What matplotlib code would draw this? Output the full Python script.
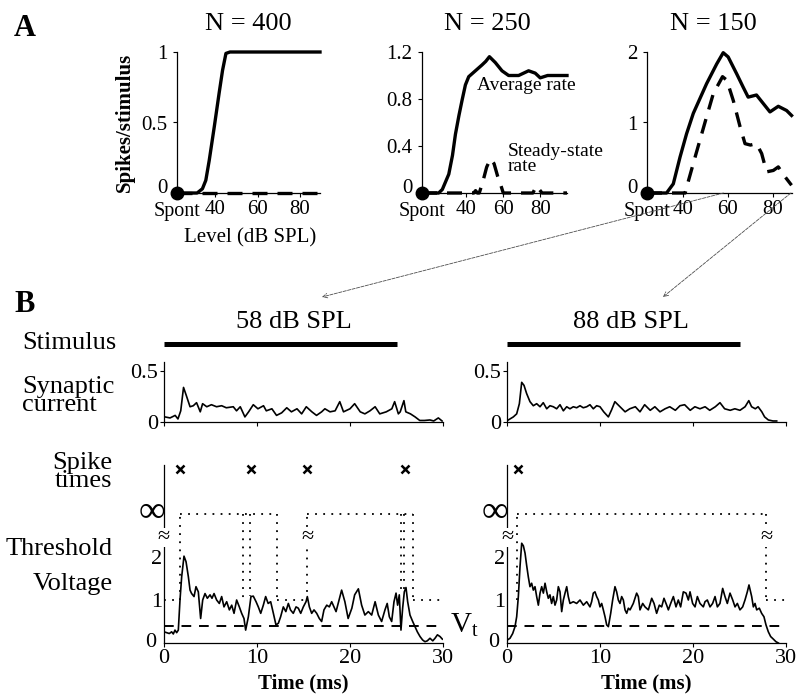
import matplotlib
matplotlib.use('Agg')
import matplotlib.pyplot as plt
from matplotlib.patches import ConnectionPatch
from matplotlib.transforms import ScaledTranslation

plt.rcParams['font.family'] = ['Liberation Serif', 'DejaVu Serif']
plt.rcParams['mathtext.fontset'] = 'custom'
plt.rcParams['mathtext.rm'] = 'Liberation Serif'
plt.rcParams['mathtext.it'] = 'Liberation Serif:italic'

# ---------------- data: panel A (rate vs level) ----------------
n_fibers = [400, 250, 150]
spont = [22, 16, 24]                 # where "Spont" sits on each level axis
level_max = [89.5, 94.5, 88.5]
rate_max = [1.0, 1.2, 2.0]
rate_ticks = [[0, 0.5, 1], [0, 0.4, 0.8, 1.2], [0, 1, 2]]
rate_ticklabels = [['0', '0.5', '1'], ['0', '0.4', '0.8', '1.2'], ['0', '1', '2']]

lvl_avg400 = [22, 31.5, 34, 35.6, 37.2, 39.6, 41.9, 43.5, 45.1, 47, 60, 70, 80, 89.5]
avg400 = [0, 0, 0.03, 0.09, 0.23, 0.47, 0.71, 0.87, 0.99, 1, 1, 1, 1, 1]
lvl_ss400 = [22, 89.5]
ss400 = [0, 0]

lvl_avg250 = [16, 25, 27, 30.5, 32.5, 34.1, 36, 37.7, 39.5, 41.3, 44.9, 48.5, 50.5, 52.5,
              55.7, 59.3, 62.9, 68.3, 73.7, 77.3, 80, 84, 88, 94.5]
avg250 = [0, 0, 0.03, 0.16, 0.32, 0.50, 0.66, 0.79, 0.92, 0.99, 1.04, 1.09, 1.12, 1.16,
          1.11, 1.04, 1.00, 1.00, 1.04, 1.02, 0.98, 1.0, 1.0, 1.0]
lvl_ss250 = [16, 44, 45, 46, 47, 49, 51, 53, 55, 57, 59, 60, 76, 78, 80, 81, 94.5]
ss250 = [0, 0, 0.02, 0, 0, 0.1, 0.22, 0.29, 0.25, 0.14, 0.05, 0, 0, 0.06, 0.02, 0, 0]

lvl_avg150 = [24, 32.7, 35.7, 38.7, 41.6, 44.6, 50.5, 55, 57.9, 60.1, 63.9, 66.8, 69,
              72.7, 75.7, 78.7, 82.4, 86.1, 88.3]
avg150 = [0, 0, 0.13, 0.51, 0.84, 1.13, 1.55, 1.83, 1.99, 1.93, 1.69, 1.50, 1.36,
          1.39, 1.27, 1.15, 1.23, 1.17, 1.10]
lvl_ss150 = [24, 41, 41.7, 45.4, 50.5, 53.5, 57.6, 59.5, 62.4, 65.4, 67.6, 70, 72.7,
             75, 77.2, 80.2, 82.4, 85.4, 88.3]
ss150 = [0, 0, 0.09, 0.51, 1.08, 1.41, 1.65, 1.60, 1.31, 0.94, 0.70, 0.68, 0.70,
         0.56, 0.30, 0.32, 0.37, 0.23, 0.11]

# ---------------- data: panel B (time courses) ----------------
b_levels = [58, 88]
stim = [0, 25]
vt = 0.4
inf_level = 3.0
break_level = 2.45
spike_row = 4.05

t_cur58 = [0.1, 0.65, 1.2, 1.5, 1.8, 2.1, 2.4, 2.8, 3.15, 3.5, 3.9, 4.15, 4.6, 5.1, 5.65,
           6.2, 6.7, 7.45, 7.8, 8.2, 8.7, 9.1, 9.6, 10.1, 10.7, 11.0, 11.6, 12.1, 12.65,
           13.2, 13.7, 14.3, 14.8, 15.3, 15.9, 16.4, 16.95, 17.3, 17.85, 18.4, 18.9,
           19.3, 20.0, 20.5, 21.1, 21.6, 22.15, 22.7, 23.2, 23.9, 24.5, 24.8, 25.2,
           25.4, 25.8, 26.0, 26.5, 27.0, 27.5, 28.0, 28.6, 29.0, 29.5, 29.9]
cur58 = [0.05, 0.04, 0.065, 0.03, 0.11, 0.34, 0.26, 0.15, 0.16, 0.19, 0.10, 0.18, 0.15,
         0.17, 0.15, 0.16, 0.14, 0.15, 0.11, 0.15, 0.05, 0.10, 0.17, 0.13, 0.16, 0.11,
         0.13, 0.065, 0.09, 0.14, 0.10, 0.13, 0.08, 0.15, 0.10, 0.065, 0.10, 0.13, 0.10,
         0.11, 0.20, 0.10, 0.13, 0.18, 0.10, 0.08, 0.11, 0.15, 0.08, 0.10, 0.13, 0.20,
         0.08, 0.10, 0.21, 0.10, 0.08, 0.05, 0.015, 0.015, 0.02, 0.01, 0.04, 0.01]

t_cur88 = [0.14, 0.68, 1.04, 1.33, 1.58, 1.83, 2.11, 2.47, 2.83, 3.19, 3.55, 3.9, 4.27,
           4.62, 4.98, 5.34, 5.7, 6.06, 6.42, 6.77, 7.13, 7.49, 7.85, 8.2, 8.57, 8.92,
           9.28, 9.64, 10.0, 10.4, 10.9, 11.25, 11.6, 12.15, 12.7, 13.2, 13.8, 14.3,
           14.8, 15.4, 15.9, 16.45, 17.0, 17.5, 18.1, 18.6, 19.1, 19.7, 20.2, 20.75,
           21.3, 21.8, 22.4, 22.9, 23.4, 24.0, 24.5, 25.05, 25.6, 26.0, 26.3, 26.7,
           27.0, 27.4, 27.7, 28.1, 28.6, 29.0]
cur88 = [0.02, 0.05, 0.08, 0.18, 0.39, 0.36, 0.28, 0.20, 0.16, 0.18, 0.15, 0.19, 0.13,
         0.16, 0.15, 0.13, 0.17, 0.11, 0.15, 0.13, 0.15, 0.14, 0.16, 0.14, 0.15, 0.17,
         0.13, 0.16, 0.15, 0.10, 0.05, 0.12, 0.20, 0.15, 0.10, 0.13, 0.15, 0.10, 0.17,
         0.115, 0.15, 0.10, 0.13, 0.15, 0.115, 0.16, 0.17, 0.115, 0.15, 0.13, 0.15,
         0.115, 0.15, 0.19, 0.13, 0.115, 0.13, 0.115, 0.15, 0.21, 0.15, 0.13, 0.15,
         0.10, 0.05, 0.02, 0.01, 0.01]

t_v58 = [0.0, 0.29, 0.57, 0.82, 1.0, 1.18, 1.36, 1.54, 1.72, 1.9, 2.15, 2.37, 2.62, 2.8,
         2.97, 3.23, 3.44, 3.69, 3.94, 4.16, 4.41, 4.66, 4.95, 5.16, 5.38, 5.66, 5.95,
         6.2, 6.45, 6.74, 7.03, 7.28, 7.53, 7.81, 8.1, 8.35, 8.6, 8.78, 9.07, 9.35, 9.6,
         9.9, 10.14, 10.4, 10.68, 10.93, 11.2, 11.47, 11.76, 12.04, 12.3, 12.54, 12.83,
         13.1, 13.37, 13.6, 13.9, 14.2, 14.44, 14.7, 14.98, 15.27, 15.41, 15.63, 15.88,
         16.13, 16.42, 16.7, 16.95, 17.2, 17.5, 17.78, 18.03, 18.5, 19.1, 19.45, 19.8,
         20.2, 20.5, 20.9, 21.25, 21.6, 21.97, 22.33, 22.7, 23.05, 23.4, 23.76, 24.0,
         24.23, 24.48, 24.73, 24.95, 25.12, 25.3, 25.48, 25.66, 25.84, 26.02, 26.2,
         26.45, 26.74, 26.99, 27.24, 27.53, 27.81, 28.06, 28.31, 28.6, 28.9, 29.14,
         29.4, 29.68, 29.93]
v58 = [0.26, 0.24, 0.22, 0.26, 0.21, 0.30, 0.24, 0.30, 1.0, 1.54, 2.02, 1.89, 1.54, 1.23,
       1.15, 1.08, 1.31, 1.19, 0.57, 1.0, 1.15, 1.04, 1.12, 1.04, 1.15, 1.0, 0.92, 1.08,
       0.84, 0.96, 0.77, 0.88, 0.69, 1.0, 0.84, 0.69, 0.57, 0.30, 0.61, 1.08, 1.09, 0.96,
       0.84, 0.69, 0.88, 1.08, 0.92, 0.96, 0.69, 0.42, 0.46, 0.61, 0.84, 0.73, 0.92, 0.77,
       0.69, 0.84, 0.81, 0.69, 0.84, 0.96, 1.08, 0.84, 0.69, 0.77, 0.69, 0.57, 0.50, 0.77,
       0.88, 0.84, 0.96, 0.73, 1.23, 0.96, 0.57, 0.81, 1.12, 1.26, 0.88, 0.65, 0.73, 0.65,
       0.96, 0.65, 0.50, 0.77, 0.92, 0.61, 0.50, 0.96, 1.16, 0.88, 1.12, 0.30, 0.81, 1.19,
       1.29, 0.96, 0.65, 0.50, 0.38, 0.26, 0.15, 0.07, 0.03, 0.05, 0.11, 0.05, 0.11, 0.19,
       0.15, 0.09]

t_v88 = [0.04, 0.32, 0.61, 0.86, 1.04, 1.22, 1.4, 1.58, 1.76, 1.94, 2.11, 2.29, 2.47,
         2.65, 2.83, 3.01, 3.19, 3.37, 3.55, 3.73, 3.91, 4.09, 4.27, 4.44, 4.62, 4.8,
         4.98, 5.16, 5.34, 5.52, 5.7, 5.88, 6.06, 6.24, 6.42, 6.59, 6.77, 7.13, 7.49,
         7.85, 8.21, 8.57, 8.92, 9.1, 9.28, 9.46, 9.64, 9.82, 10.0, 10.18, 10.36, 10.54,
         10.72, 10.9, 11.15, 11.36, 11.61, 11.79, 11.97, 12.15, 12.33, 12.51, 12.69,
         12.87, 13.05, 13.23, 13.58, 13.94, 14.12, 14.3, 14.59, 14.84, 15.2, 15.56,
         15.81, 16.09, 16.38, 16.63, 16.88, 17.17, 17.35, 17.6, 17.89, 18.17, 18.42,
         18.67, 18.96, 19.25, 19.5, 19.68, 19.96, 20.22, 20.47, 20.75, 21.11, 21.29,
         21.54, 21.83, 22.11, 22.37, 22.62, 22.9, 23.19, 23.44, 23.69, 23.98, 24.27,
         24.52, 24.77, 25.05, 25.34, 25.59, 25.84, 26.02, 26.31, 26.49, 26.67, 26.85,
         27.13, 27.38, 27.63, 27.85, 28.1, 28.35, 28.64, 28.92, 29.18]
v88 = [0.07, 0.11, 0.22, 0.38, 0.61, 1.08, 1.78, 2.32, 2.26, 2.09, 1.81, 1.54, 1.31,
       1.39, 1.23, 1.31, 1.08, 0.88, 1.16, 1.31, 1.16, 1.39, 1.19, 1.04, 1.12, 0.92,
       1.08, 0.88, 1.0, 1.31, 1.19, 0.73, 1.0, 1.16, 1.31, 1.08, 0.92, 0.96, 0.92, 1.0,
       0.88, 0.96, 0.84, 0.96, 1.16, 1.19, 1.08, 1.0, 0.84, 0.92, 0.77, 0.61, 0.42, 0.38,
       0.69, 1.0, 1.31, 1.19, 1.0, 0.92, 1.08, 1.0, 0.77, 0.69, 0.81, 0.77, 0.92, 1.16,
       1.08, 0.77, 0.92, 0.84, 0.77, 1.04, 0.92, 0.69, 0.88, 0.84, 1.04, 0.88, 0.77, 0.92,
       1.08, 0.84, 1.0, 0.84, 1.19, 1.16, 1.0, 1.19, 0.92, 0.84, 1.08, 0.92, 0.84, 0.96,
       1.0, 0.84, 0.92, 1.08, 0.84, 0.92, 1.27, 1.08, 0.92, 1.16, 1.0, 0.84, 0.92, 0.77,
       0.84, 1.0, 1.19, 1.35, 1.08, 0.84, 0.92, 0.77, 0.81, 0.69, 0.61, 0.42, 0.26, 0.15,
       0.09, 0.03, 0.0]

spikes58 = [1.7, 9.4, 15.4, 25.9]
spikes88 = [1.2]

# threshold drawn as dotted segments: (t0, t1, v0, v1)
thr58 = [(0, 1.7, 1, 1), (1.7, 1.7, 1, 3), (1.7, 12.1, 3, 3), (8.5, 8.5, 3, 1.05),
         (9.25, 9.25, 3, 1.1), (12.1, 12.1, 3, 1), (12.1, 15.4, 1, 1),
         (15.4, 15.4, 1, 3), (15.4, 26.8, 3, 3), (25.5, 25.5, 3, 1.2),
         (25.8, 25.8, 3, 1.2), (26.8, 26.8, 3, 1), (26.8, 30, 1, 1)]
thr88 = [(1.1, 1.1, 1, 3), (1.1, 27.9, 3, 3), (27.9, 27.9, 3, 1), (27.9, 30, 1, 1)]
breaks58 = [0, 15.4]
breaks88 = [0, 27.9]

# ---------------- layout ----------------
W, H = 800, 697
fig = plt.figure(figsize=(8, 6.97), dpi=100)


def box(l, t, r, b):
    return [l / W, 1 - b / H, (r - l) / W, (b - t) / H]


def ftext(x, y, s, **kw):
    return fig.text(x / W, 1 - y / H, s, **kw)


def clean(ax):
    ax.spines['top'].set_visible(False)
    ax.spines['right'].set_visible(False)
    for s in ['left', 'bottom']:
        ax.spines[s].set_linewidth(0.9)
    ax.patch.set_alpha(0)


def nudge(label, dx_pt, dy_pt):
    label.set_transform(label.get_transform() +
                        ScaledTranslation(dx_pt / 72, dy_pt / 72, fig.dpi_scale_trans))


# Panel A
a_boxes = [(177, 52, 320, 193), (422, 52, 567, 193), (647, 52, 792, 193)]
a_title_x = [248, 487, 713]
a_lvl = [lvl_avg400, lvl_avg250, lvl_avg150]
a_avg = [avg400, avg250, avg150]
a_lvl_ss = [lvl_ss400, lvl_ss250, lvl_ss150]
a_ss = [ss400, ss250, ss150]
a_axes = []
for i in range(3):
    ax = fig.add_axes(box(*a_boxes[i]))
    clean(ax)
    ax.plot(a_lvl_ss[i], a_ss[i], color='k', lw=2.4, dashes=(4.5, 3), clip_on=False)
    ax.plot(a_lvl[i], a_avg[i], color='k', lw=2.4, clip_on=False)
    ax.plot([spont[i]], [0], 'ko', ms=9, clip_on=False, zorder=5)
    ax.set_xlim(spont[i], level_max[i])
    ax.set_ylim(0, rate_max[i])
    ax.set_xticks([40, 60, 80])
    ax.set_yticks(rate_ticks[i])
    ax.set_yticklabels(rate_ticklabels[i])
    ax.tick_params(labelsize=15, length=3, width=0.8, pad=2)
    ax.tick_params(axis='y', pad=4)
    nudge(ax.get_yticklabels()[0], 0, 5)   # keep "0" clear of "Spont"
    ax.text(0, -0.065, 'Spont', transform=ax.transAxes, ha='center', va='top', fontsize=14.5)
    ftext(a_title_x[i], 24, 'N = %d' % n_fibers[i], ha='center', va='center', fontsize=19)
    a_axes.append(ax)

ftext(125, 122, 'Spikes/stimulus', rotation=90, ha='center', va='center',
      fontsize=15, fontweight='bold')
ftext(250, 238, 'Level (dB SPL)', ha='center', va='center', fontsize=15)
ftext(477, 86, 'Average rate', ha='left', va='center', fontsize=14)
ftext(508, 159, 'Steady-state\nrate', ha='left', va='center', fontsize=14, linespacing=0.82)
ftext(25, 28, 'A', ha='center', va='center', fontsize=22, fontweight='bold')
ftext(25, 305, 'B', ha='center', va='center', fontsize=22, fontweight='bold')

# arrows from the N = 150 curve to panel B
arrow_ends = [(322, 297), (663, 297)]
for lev, (ex, ey) in zip(b_levels, arrow_ends):
    con = ConnectionPatch(xyA=(lev, 0), coordsA=a_axes[2].transData,
                          xyB=(ex / W, 1 - ey / H), coordsB=fig.transFigure,
                          arrowstyle='->', lw=0.6, color='0.3',
                          linestyle=(0, (4, 1.5)), mutation_scale=8)
    fig.add_artist(con)

# Panel B
b_left = [164, 507]
b_title_x = [294, 631]
b_tcur = [t_cur58, t_cur88]
b_cur = [cur58, cur88]
b_tv = [t_v58, t_v88]
b_v = [v58, v88]
b_spk = [spikes58, spikes88]
b_thr = [thr58, thr88]
b_brk = [breaks58, breaks88]
for k in range(2):
    L = b_left[k]
    axc = fig.add_axes(box(L, 362, L + 279, 422))
    clean(axc)
    axc.plot(b_tcur[k], b_cur[k], color='k', lw=1.2)
    axc.plot(stim, [0.77, 0.77], color='k', lw=3.6, clip_on=False, solid_capstyle='butt')
    axc.set_xlim(0, 30)
    axc.set_ylim(0, 0.59)
    axc.set_xticks([0, 10, 20, 30])
    axc.set_xticklabels([])
    axc.set_yticks([0, 0.5])
    axc.set_yticklabels(['0', '0.5'])
    axc.tick_params(labelsize=16, length=3, width=0.8, pad=1)
    ftext(b_title_x[k], 322, '%d dB SPL' % b_levels[k], ha='center', va='center',
          fontsize=19)

    axv = fig.add_axes(box(L, 465, L + 279, 643))
    clean(axv)
    for (t0, t1, v0, v1) in b_thr[k]:
        axv.plot([t0, t1], [v0, v1], color='k', lw=1.3, linestyle=(0, (1, 3.5)))
    axv.plot([0, 30], [vt, vt], color='k', lw=1.4, dashes=(5, 4))
    axv.plot(b_tv[k], b_v[k], color='k', lw=1.2)
    axv.plot(b_spk[k], [spike_row] * len(b_spk[k]), 'kx', ms=5.5, mew=1.8, clip_on=False)
    for tb in b_brk[k]:
        axv.text(tb, break_level, '\u2248', ha='center', va='center', fontsize=16,
                 bbox=dict(boxstyle='square,pad=0', fc='white', ec='none'), zorder=6)
    axv.set_xlim(0, 30)
    axv.set_ylim(0, 4.14)
    axv.set_xticks([0, 10, 20, 30])
    axv.set_yticks([0, 1, 2])
    axv.tick_params(axis='y', labelsize=16, length=0, pad=1)
    axv.tick_params(axis='x', labelsize=16, length=3, width=0.8, pad=1)
    nudge(axv.get_yticklabels()[0], -4.5, 2)   # keep y "0" clear of x "0"
    ftext(L - 12, 513, '\u221e', ha='center', va='center', fontsize=27,
          family='Liberation Serif')
    ftext(L + 139, 683, 'Time (ms)', ha='center', va='center', fontsize=15,
          fontweight='bold')

ftext(450, 625, r'V$_\mathrm{t}$', ha='left', va='center', fontsize=21)
ftext(22, 343, 'Stimulus', ha='left', va='center', fontsize=19)
ftext(22, 396, 'Synaptic\ncurrent', ha='left', va='center', fontsize=19, linespacing=0.8)
ftext(112, 472, 'Spike\ntimes', ha='right', va='center', fontsize=19, linespacing=0.8)
ftext(113, 549, 'Threshold', ha='right', va='center', fontsize=19)
ftext(113, 584, 'Voltage', ha='right', va='center', fontsize=19)

fig.savefig('out.png', dpi=100)
